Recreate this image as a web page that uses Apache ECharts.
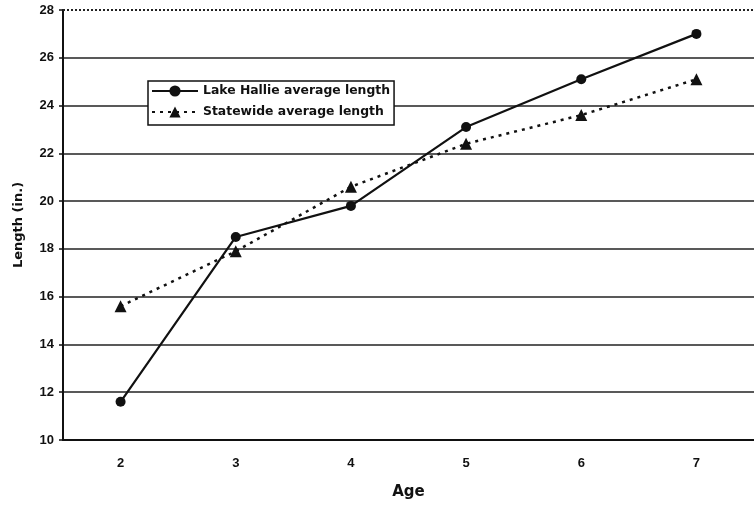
<!DOCTYPE html>
<html><head><meta charset="utf-8">
<script src="https://cdn.jsdelivr.net/npm/echarts@6/dist/echarts.min.js"></script>
<style>html,body{margin:0;padding:0;background:#fff}#c{width:754px;height:505px}</style>
</head><body><div id="c"></div>
<script>
var ages = ['2','3','4','5','6','7'];
var lakeHallie = [11.6, 18.5, 19.8, 23.1, 25.1, 27.0];
var statewide = [15.6, 17.9, 20.6, 22.4, 23.6, 25.1];
var yTicks = [10,12,14,16,18,20,22,24,26,28];

var chart = echarts.init(document.getElementById('c'));
var tickFont = 'Liberation Sans, Arial, sans-serif';
var nameFont = 'DejaVu Sans, sans-serif';
chart.setOption({
  animation: false,
  backgroundColor: '#fff',
  grid: {left: 63, top: 10, width: 696, bottom: 65, containLabel: false},
  legend: {
    orient: 'vertical', left: 148, top: 81,
    backgroundColor: '#fff', borderColor: '#111', borderWidth: 1.5, borderRadius: 0,
    padding: [4, 4, 7, 3], itemGap: 9, itemWidth: 46, itemHeight: 14,
    textStyle: {fontFamily: nameFont, fontWeight: 'bold', fontSize: 12.4, color: '#111'},
    data: ['Lake Hallie average length', 'Statewide average length']
  },
  xAxis: {
    type: 'category', data: ages, boundaryGap: true,
    name: 'Age', nameLocation: 'middle', nameGap: 45,
    nameTextStyle: {fontFamily: nameFont, fontWeight: 'bold', fontSize: 15, color: '#111'},
    axisLine: {lineStyle: {color: '#111', width: 2}},
    axisTick: {show: false},
    axisLabel: {fontFamily: tickFont, fontWeight: 'bold', fontSize: 13, color: '#111', margin: 17}
  },
  yAxis: {
    type: 'value', min: yTicks[0], max: yTicks[yTicks.length-1], interval: 2,
    name: 'Length (in.)', nameLocation: 'middle', nameGap: 38,
    nameTextStyle: {fontFamily: nameFont, fontWeight: 'bold', fontSize: 13, color: '#111'},
    axisLine: {show: true, lineStyle: {color: '#111', width: 2}},
    axisTick: {show: true, length: 4, lineStyle: {color: '#111', width: 1.5}},
    axisLabel: {fontFamily: tickFont, fontWeight: 'bold', fontSize: 13, color: '#111', margin: 9},
    splitLine: {show: true, showMaxLine: false, lineStyle: {color: '#222', width: 1.5}}
  },
  series: [
    {
      name: 'Lake Hallie average length', type: 'line', data: lakeHallie,
      symbol: 'circle', symbolSize: 10,
      lineStyle: {color: '#111', width: 2.2},
      itemStyle: {color: '#111'},
      markLine: {
        silent: true, symbol: ['none','none'], label: {show: false},
        lineStyle: {color: '#222', type: [2, 2], width: 2},
        data: [{yAxis: yTicks[yTicks.length-1]}]
      }
    },
    {
      name: 'Statewide average length', type: 'line', data: statewide,
      symbol: 'triangle', symbolSize: 12,
      lineStyle: {color: '#111', width: 2.5, type: [3, 5]},
      itemStyle: {color: '#111'}
    }
  ]
});
</script></body></html>
